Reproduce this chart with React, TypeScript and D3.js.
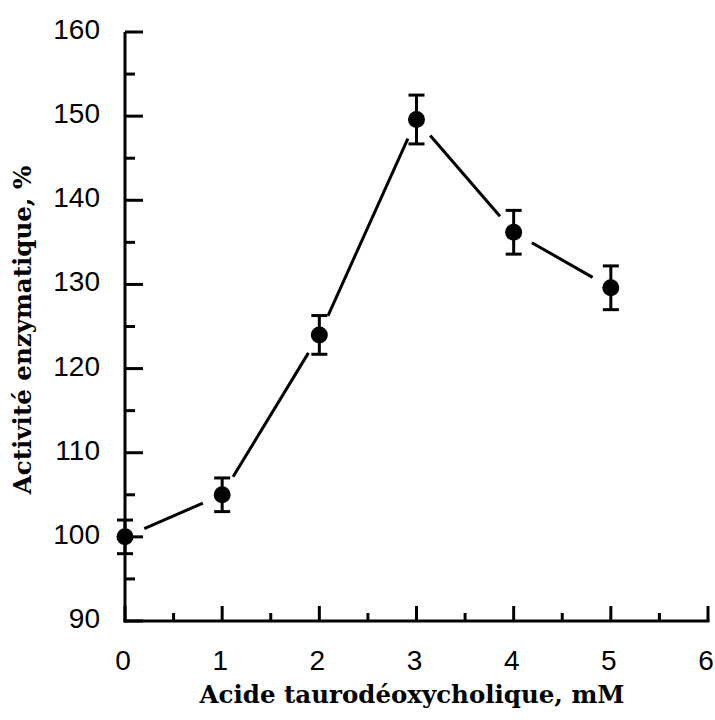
import React from "react";
import * as d3 from "d3";

const concentrations = [0, 1, 2, 3, 4, 5];
const activity = [100, 105, 124, 149.6, 136.2, 129.6];
const errors = [2.0, 2.0, 2.3, 2.9, 2.6, 2.6];
const xTicks = [0, 1, 2, 3, 4, 5, 6];
const yTicks = [90, 100, 110, 120, 130, 140, 150, 160];
const xTitle = "Acide taurodéoxycholique, mM";
const yTitle = "Activité enzymatique, %";

export default function App() {
  const W = 715, H = 720;
  const x = d3.scaleLinear().domain([0, 6]).range([125, 708]);
  const y = d3.scaleLinear().domain([90, 160]).range([621, 32]);
  const xMinor = d3.range(0.5, 6, 1);
  const yMinor = d3.range(95, 160, 10);
  const gap = 21;
  const sw = 3;
  const segs = concentrations.slice(1).map((c, i) => {
    const x0 = x(concentrations[i]), y0 = y(activity[i]);
    const x1 = x(c), y1 = y(activity[i + 1]);
    const dx = x1 - x0, dy = y1 - y0;
    const L = Math.hypot(dx, dy);
    return { x0: x0 + (dx / L) * gap, y0: y0 + (dy / L) * gap, x1: x1 - (dx / L) * gap, y1: y1 - (dy / L) * gap };
  });
  return (
    <svg width={W} height={H} style={{ position: "absolute", left: 0, top: 0, background: "#fff" }}>
      <rect x={0} y={0} width={W} height={H} fill="#fff" />
      <line x1={x(0)} x2={x(0)} y1={y(160)} y2={y(90) + sw / 2} stroke="#000" strokeWidth={sw} />
      <line x1={x(0) - sw / 2} x2={x(6) + sw / 2} y1={y(90)} y2={y(90)} stroke="#000" strokeWidth={sw} />
      {yTicks.map((t) => (
        <g key={"yt" + t}>
          <line x1={x(0)} x2={x(0) + 18} y1={y(t)} y2={y(t)} stroke="#000" strokeWidth={sw} />
          <text x={100} y={y(t) + 7} textAnchor="end" fontFamily="Liberation Sans, Arial, sans-serif" fontSize={28}>{t}</text>
        </g>
      ))}
      {yMinor.map((t) => (
        <line key={"ym" + t} x1={x(0)} x2={x(0) + 10} y1={y(t)} y2={y(t)} stroke="#000" strokeWidth={sw} />
      ))}
      {xTicks.map((t) => (
        <g key={"xt" + t}>
          <line x1={x(t)} x2={x(t)} y1={y(90)} y2={y(90) - 15} stroke="#000" strokeWidth={sw} />
          <text x={x(t) - 2} y={670} textAnchor="middle" fontFamily="Liberation Sans, Arial, sans-serif" fontSize={28}>{t}</text>
        </g>
      ))}
      {xMinor.map((t) => (
        <line key={"xm" + t} x1={x(t)} x2={x(t)} y1={y(90)} y2={y(90) - 8} stroke="#000" strokeWidth={sw} />
      ))}
      {segs.map((s, i) => (
        <line key={"s" + i} x1={s.x0} y1={s.y0} x2={s.x1} y2={s.y1} stroke="#000" strokeWidth={3} />
      ))}
      {concentrations.map((c, i) => {
        const cx = x(c), cy = y(activity[i]);
        const top = y(activity[i] + errors[i]), bot = y(activity[i] - errors[i]);
        return (
          <g key={"p" + i}>
            <line x1={cx} x2={cx} y1={top} y2={bot} stroke="#000" strokeWidth={3} />
            <line x1={cx - 8} x2={cx + 8} y1={top} y2={top} stroke="#000" strokeWidth={3} />
            <line x1={cx - 8} x2={cx + 8} y1={bot} y2={bot} stroke="#000" strokeWidth={3} />
            <circle cx={cx} cy={cy} r={8.5} fill="#000" />
          </g>
        );
      })}
      <text x={412} y={703} textAnchor="middle" fontFamily="DejaVu Serif, serif" fontWeight="bold" fontSize={24.5}>{xTitle}</text>
      <text transform={`translate(31,330) rotate(-90)`} textAnchor="middle" fontFamily="DejaVu Serif, serif" fontWeight="bold" fontSize={24.5}>{yTitle}</text>
    </svg>
  );
}
